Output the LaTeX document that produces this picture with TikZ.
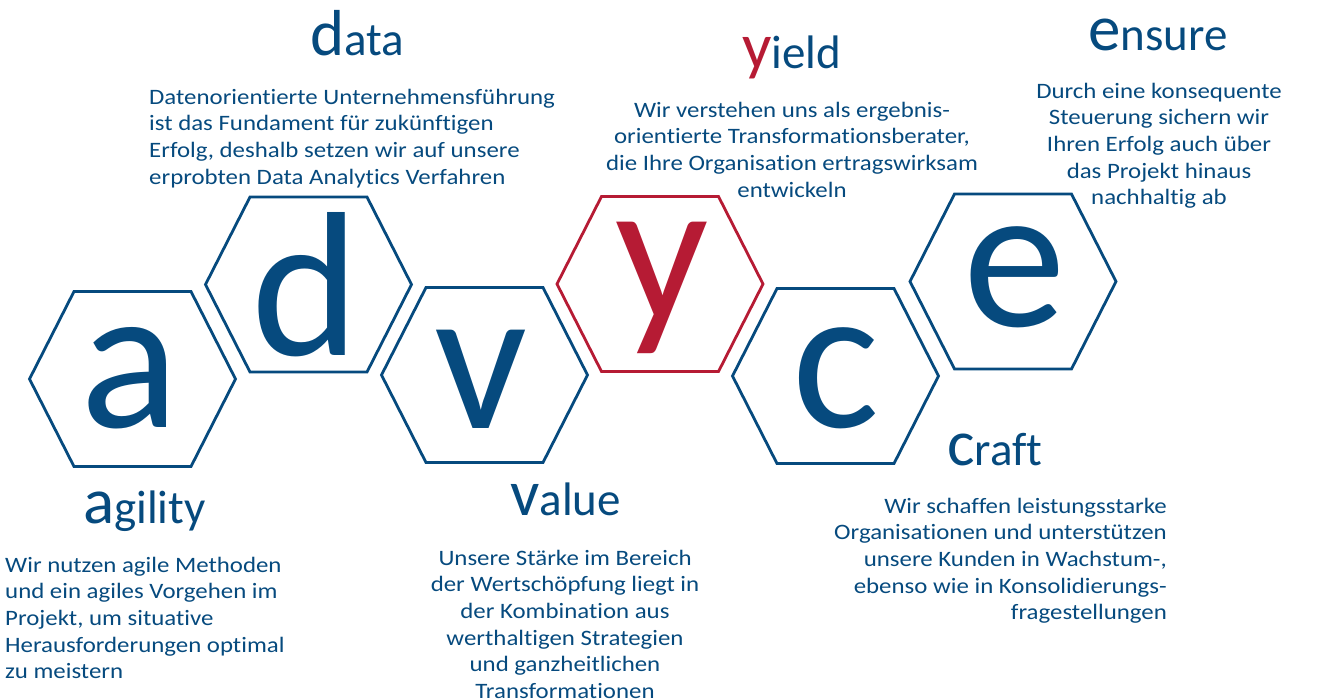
\documentclass[tikz,border=0pt]{standalone}
\usepackage{fontspec}
\setmainfont[Ligatures={NoCommon}]{Carlito}
\newfontfamily\bodyfont[FakeStretch=1.13,Ligatures={NoCommon}]{Carlito}
\definecolor{advblue}{RGB}{6,74,126}
\definecolor{advred}{RGB}{182,27,52}
\newcommand\blk[2]{\begin{tabular}[t]{@{}#1@{}}#2\end{tabular}}
\newcommand\capl[1]{{\fontsize{65}{65}\selectfont #1}}
\begin{document}
\begin{tikzpicture}[x=1pt,y=-1pt,
  hexline/.style={line width=2.8pt, line join=miter},
  pics/hexa/.style={code={\draw[hexline,#1] (-103,0) -- (-58.5,-87.5) -- (58.5,-87.5) -- (103,0) -- (58.5,87.5) -- (-58.5,87.5) -- cycle;}},
  bigl/.style={inner sep=0, anchor=base, font=\fontsize{206}{206}\selectfont, text=advblue},
  head/.style={inner sep=0, anchor=base west, text=advblue, font=\fontsize{47}{50}\selectfont},
  body/.style={inner sep=0, text=advblue, font=\bodyfont\fontsize{22}{26.7}\selectfont}]
\useasboundingbox (0,0) rectangle (1320,699);
% hexagons
\pic (hexA) at (132.5,379) {hexa=advblue};
\pic (hexD) at (308.5,284.5) {hexa=advblue};
\pic (hexV) at (484.5,375) {hexa=advblue};
\pic (hexY) at (660,284) {hexa=advred};
\pic (hexC) at (835.5,376) {hexa=advblue};
\pic (hexE) at (1013,281.5) {hexa=advblue};
% big letters
\node[bigl] (la) at (130,427) {a};
\node[bigl] (ld) at (305.5,355) {d};
\node[bigl] (lv) at (481,428) {v};
\node[bigl, text=advred] (ly) at (662,320) {y};
\node[bigl] (lc) at (836.5,427) {c};
\node[bigl] (le) at (1014.5,326) {e};
% headings
\node[head] (hdata) at (310,55) {\capl{d}ata};
\node[head] (hyield) at (742,68) {\capl{\textcolor{advred}{y}}ield};
\node[head] (hensure) at (1088,50) {\capl{e}nsure};
\node[head] (hagility) at (83,523) {\capl{a}gility};
\node[head] (hvalue) at (510,515) {\capl{v}alue};
\node[head] (hcraft) at (947,465) {\capl{c}raft};
% body texts
\node[body, anchor=base west] (tdata) at (149,104) {\blk{l}{Datenorientierte Unternehmensführung\\ist das Fundament für zukünftigen\\Erfolg, deshalb setzen wir auf unsere\\erprobten Data Analytics Verfahren}};
\node[body, anchor=base] (tyield) at (792,117) {\blk{c}{Wir verstehen uns als ergebnis-\\orientierte Transformationsberater,\\die Ihre Organisation ertragswirksam\\entwickeln}};
\node[body, anchor=base] (tensure) at (1159,98) {\blk{c}{Durch eine konsequente\\Steuerung sichern wir\\Ihren Erfolg auch über\\das Projekt hinaus\\nachhaltig ab}};
\node[body, anchor=base west] (tagility) at (5,572) {\blk{l}{Wir nutzen agile Methoden\\und ein agiles Vorgehen im\\Projekt, um situative\\Herausforderungen optimal\\zu meistern}};
\node[body, anchor=base] (tvalue) at (565,565) {\blk{c}{Unsere Stärke im Bereich\\der Wertschöpfung liegt in\\der Kombination aus\\werthaltigen Strategien\\und ganzheitlichen\\Transformationen}};
\node[body, anchor=base east] (tcraft) at (1167,513) {\blk{r}{Wir schaffen leistungsstarke\\Organisationen und unterstützen\\unsere Kunden in Wachstum-,\\ebenso wie in Konsolidierungs-\\fragestellungen}};
\end{tikzpicture}
\end{document}
